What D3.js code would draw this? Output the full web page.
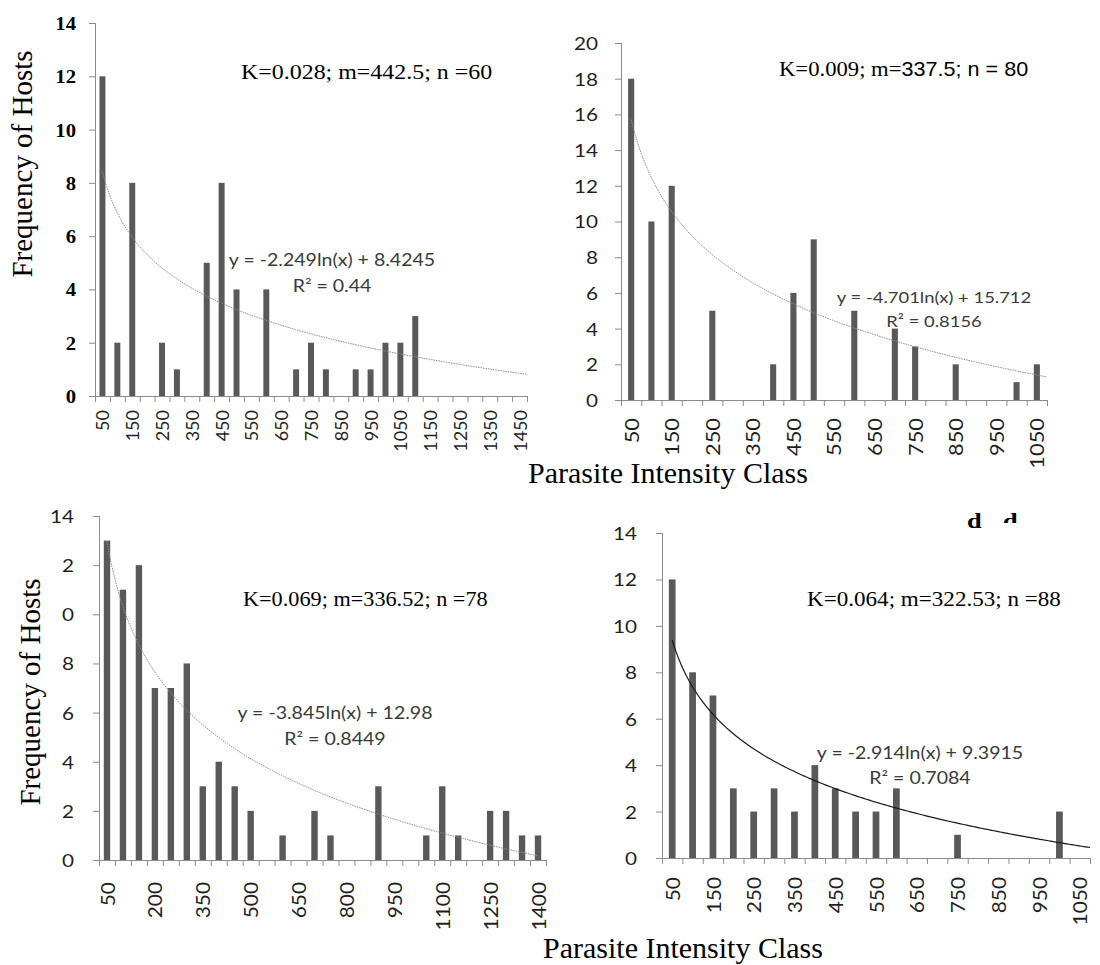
<!DOCTYPE html>
<html>
<head>
<meta charset="utf-8">
<script src="https://cdn.jsdelivr.net/npm/d3@7/dist/d3.min.js"></script>
<style>
  body { margin: 0; background: #fff; }
  svg { display: block; }
</style>
</head>
<body>
<svg id="fig" width="1100" height="965"></svg>
<script>
// ---- data: parasite intensity classes and host frequencies, four samples ----
const classesA = [50,100,150,200,250,300,350,400,450,500,550,600,650,700,750,800,850,900,950,1000,1050,1100,1150,1200,1250,1300,1350,1400,1450];
const freqA    = [12,2,8,0,2,1,0,5,8,4,0,4,0,1,2,1,0,1,1,2,2,3,0,0,0,0,0,0,0];

const classesB = [50,100,150,200,250,300,350,400,450,500,550,600,650,700,750,800,850,900,950,1000,1050];
const freqB    = [18,10,12,0,5,0,0,2,6,9,0,5,0,4,3,0,2,0,0,1,2];

const classesC = [50,100,150,200,250,300,350,400,450,500,550,600,650,700,750,800,850,900,950,1000,1050,1100,1150,1200,1250,1300,1350,1400];
const freqC    = [13,11,12,7,7,8,3,4,3,2,0,1,0,2,1,0,0,3,0,0,1,3,1,0,2,2,1,1];

const classesD = [50,100,150,200,250,300,350,400,450,500,550,600,650,700,750,800,850,900,950,1000,1050];
const freqD    = [12,8,7,3,2,3,2,4,3,2,2,3,0,0,1,0,0,0,0,2,0];

// axis tick values
const yTicksA = [0,2,4,6,8,10,12,14];
const yTicksB = [0,2,4,6,8,10,12,14,16,18,20];
const yTicksC = [0,2,4,6,8,10,12,14];
const yTicksD = [0,2,4,6,8,10,12,14];
const xLabelsA = ["50","150","250","350","450","550","650","750","850","950","1050","1150","1250","1350","1450"];
const xLabelsB = ["50","150","250","350","450","550","650","750","850","950","1050"];
const xLabelsC = ["50","200","350","500","650","800","950","1100","1250","1400"];
const xLabelsD = ["50","150","250","350","450","550","650","750","850","950","1050"];

// logarithmic trend fits y = a ln(x) + b and distribution statistics
const fitSlope     = [-2.249, -4.701, -3.845, -2.914];
const fitIntercept = ["8.4245", "15.712", "12.98", "9.3915"];
const fitR2        = ["0.44", "0.8156", "0.8449", "0.7084"];
const statK = ["0.028", "0.009", "0.069", "0.064"];
const statM = ["442.5", "337.5", "336.52", "322.53"];
const statN = ["60", "80", "78", "88"];

// ---- layout and styling of the four panels ----
const SERIF = "'Liberation Serif', 'Times New Roman', serif";
const SANS  = "Lato, 'Open Sans', sans-serif";
const ARIAL = "'Liberation Sans', Arial, sans-serif";
const BAR = "#595959", AXIS = "#8c8c8c", TEXT = "#1f1f1f", EQ = "#3a3a3a";

const panels = [
  { classes: classesA, freq: freqA, yTicks: yTicksA, xLabels: xLabelsA, yMax: 14,
    x0: 95, x1: 527, y0: 396, yTop: 23, barFrac: 0.4,
    yFont: SERIF, yWeight: "bold", ySize: 18, ySx: 1.15, yGap: 19,
    xSize: 18, xSx: 1.0, xGap: 14,
    statX: 241, statY: 79, statSx: 1.14,
    eqCx: 332, eqY: 266, r2Y: 292, eqSize: 17,
    trendEnd: 29.5, trendSolid: false },
  { classes: classesB, freq: freqB, yTicks: yTicksB, xLabels: xLabelsB, yMax: 20,
    x0: 621, x1: 1047, y0: 400, yTop: 43, barFrac: 0.3,
    yFont: SANS, yWeight: "normal", ySize: 18, ySx: 1.15, yGap: 23,
    xSize: 19, xSx: 1.15, xGap: 18,
    statX: 779, statY: 76, statSx: 1.08,
    eqCx: 934, eqY: 303, r2Y: 327, eqSize: 16,
    trendEnd: 21.5, trendSolid: false, mixedStat: true },
  { classes: classesC, freq: freqC, yTicks: yTicksC, xLabels: xLabelsC, yMax: 14,
    x0: 99, x1: 546, y0: 860, yTop: 516, barFrac: 0.4,
    yFont: SANS, yWeight: "normal", ySize: 18, ySx: 1.15, yGap: 25,
    xSize: 19, xSx: 1.1, xGap: 22,
    statX: 243, statY: 606, statSx: 1.06,
    eqCx: 335, eqY: 719, r2Y: 745, eqSize: 17,
    trendEnd: 28, trendSolid: false },
  { classes: classesD, freq: freqD, yTicks: yTicksD, xLabels: xLabelsD, yMax: 14,
    x0: 662, x1: 1090, y0: 858, yTop: 533, barFrac: 0.33,
    yFont: SANS, yWeight: "normal", ySize: 18, ySx: 1.15, yGap: 25,
    xSize: 19, xSx: 1.1, xGap: 19,
    statX: 807, statY: 606, statSx: 1.1,
    eqCx: 920, eqY: 759, r2Y: 784, eqSize: 17,
    trendEnd: 21.5, trendSolid: true }
];

const svg = d3.select("#fig");
svg.append("rect").attr("width", 1100).attr("height", 965).attr("fill", "#fff");

// text widened horizontally around its anchor point
function placeWide(sel, x, y, sx) {
  return sel.attr("x", 0).attr("y", 0)
    .attr("transform", `translate(${x},${y}) scale(${sx},1)`);
}

panels.forEach((p, i) => {
  const g = svg.append("g");
  const n = p.classes.length;

  const x = d3.scaleBand().domain(p.classes).range([p.x0, p.x1]).padding(0);
  const xi = d3.scaleLinear().domain([0, n]).range([p.x0, p.x1]);
  const y = d3.scaleLinear().domain([0, p.yMax]).range([p.y0, p.yTop]);

  // bars
  const bw = x.bandwidth() * p.barFrac;
  g.selectAll("rect.bar").data(p.classes).join("rect")
    .attr("class", "bar")
    .attr("x", d => x(d) + (x.bandwidth() - bw) / 2)
    .attr("width", bw)
    .attr("y", (d, k) => y(p.freq[k]))
    .attr("height", (d, k) => y(0) - y(p.freq[k]))
    .attr("fill", BAR);

  // y axis
  const yAxis = g.append("g").attr("transform", `translate(${p.x0},0)`)
    .call(d3.axisLeft(y).tickValues(p.yTicks).tickSize(6).tickFormat(d3.format("d")));
  yAxis.select(".domain").attr("stroke", AXIS).attr("d", `M0.5,${p.y0}V${p.yTop}`);
  yAxis.selectAll(".tick line").attr("stroke", AXIS);
  yAxis.selectAll(".tick text")
    .attr("font-family", p.yFont).attr("font-weight", p.yWeight)
    .attr("font-size", p.ySize).attr("fill", p.yWeight === "bold" ? "#000" : TEXT)
    .attr("dy", "0.36em")
    .each(function () { placeWide(d3.select(this), -p.yGap, 0, p.ySx); });

  // x axis: boundary ticks between classes
  const xAxis = g.append("g").attr("transform", `translate(0,${p.y0})`)
    .call(d3.axisBottom(xi).tickValues(d3.range(n + 1)).tickSize(6).tickFormat(""));
  xAxis.select(".domain").attr("stroke", AXIS).attr("d", `M${p.x0},0.5H${p.x1}`);
  xAxis.selectAll(".tick line").attr("stroke", AXIS);

  // rotated class labels
  g.selectAll("text.xl").data(p.xLabels).join("text")
    .attr("class", "xl")
    .attr("transform", d => `translate(${x(+d) + x.bandwidth() / 2},${p.y0 + p.xGap}) rotate(-90) scale(${p.xSx},1)`)
    .attr("text-anchor", "end")
    .attr("dominant-baseline", "central")
    .attr("font-family", SANS).attr("font-size", p.xSize).attr("fill", TEXT)
    .text(d => d);

  // logarithmic trend line, x = class index (1-based)
  const pts = d3.range(0, 201).map(k => 1 + (p.trendEnd - 1) * k / 200);
  const line = d3.line()
    .x(t => xi(t - 0.5))
    .y(t => y(fitSlope[i] * Math.log(t) + (+fitIntercept[i])));
  g.append("path").datum(pts).attr("d", line).attr("fill", "none")
    .attr("stroke", p.trendSolid ? "#1a1a1a" : "#8a8a8a")
    .attr("stroke-width", p.trendSolid ? 1.2 : 1)
    .attr("stroke-dasharray", p.trendSolid ? null : "1.5,1");

  // trend equation and R²
  const eq = g.append("text").attr("text-anchor", "middle")
    .attr("font-family", SANS).attr("font-size", p.eqSize).attr("fill", EQ)
    .text(`y = ${fitSlope[i]}ln(x) + ${fitIntercept[i]}`);
  placeWide(eq, p.eqCx, p.eqY, 1.15);
  const r2 = g.append("text").attr("text-anchor", "middle")
    .attr("font-family", SANS).attr("font-size", p.eqSize).attr("fill", EQ)
    .text(`R² = ${fitR2[i]}`);
  placeWide(r2, p.eqCx, p.r2Y, 1.15);

  // statistics line
  const st = g.append("text")
    .attr("font-family", SERIF).attr("font-size", 21).attr("fill", "#000");
  placeWide(st, p.statX, p.statY, p.statSx);
  if (p.mixedStat) {
    st.append("tspan").text(`K=${statK[i]}; m=`);
    st.append("tspan").attr("font-family", ARIAL).attr("font-size", 20)
      .text(`${statM[i]}; n = ${statN[i]}`);
  } else {
    st.text(`K=${statK[i]}; m=${statM[i]}; n =${statN[i]}`);
  }
});

// axis titles
svg.append("text").attr("transform", "translate(32,164) rotate(-90)")
  .attr("text-anchor", "middle").attr("font-family", SERIF).attr("font-size", 29)
  .text("Frequency of Hosts");

// lower-left title sits on a white box that hides part of the tick labels
svg.append("rect").attr("x", 8).attr("y", 540).attr("width", 53).attr("height", 295).attr("fill", "#fff");
svg.append("text").attr("transform", "translate(40,692) rotate(-90)")
  .attr("text-anchor", "middle").attr("font-family", SERIF).attr("font-size", 29)
  .text("Frequency of Hosts");

svg.append("text").attr("x", 528).attr("y", 483)
  .attr("font-family", SERIF).attr("font-size", 30).text("Parasite Intensity Class");
svg.append("text").attr("x", 543).attr("y", 958)
  .attr("font-family", SERIF).attr("font-size", 30).text("Parasite Intensity Class");

// panel letters; the second one is cut off below its upper part
const dA = svg.append("text").attr("font-family", SERIF).attr("font-weight", "bold")
  .attr("font-size", 22).text("d");
placeWide(dA, 967, 528, 1.2);
svg.append("clipPath").attr("id", "cutD").append("rect")
  .attr("x", 995).attr("y", 500).attr("width", 40).attr("height", 23);
const dHolder = svg.append("g").attr("clip-path", "url(#cutD)");
const dB = dHolder.append("text").attr("font-family", SERIF).attr("font-weight", "bold")
  .attr("font-size", 22).text("d");
placeWide(dB, 1003, 528, 1.2);
</script>
</body>
</html>
